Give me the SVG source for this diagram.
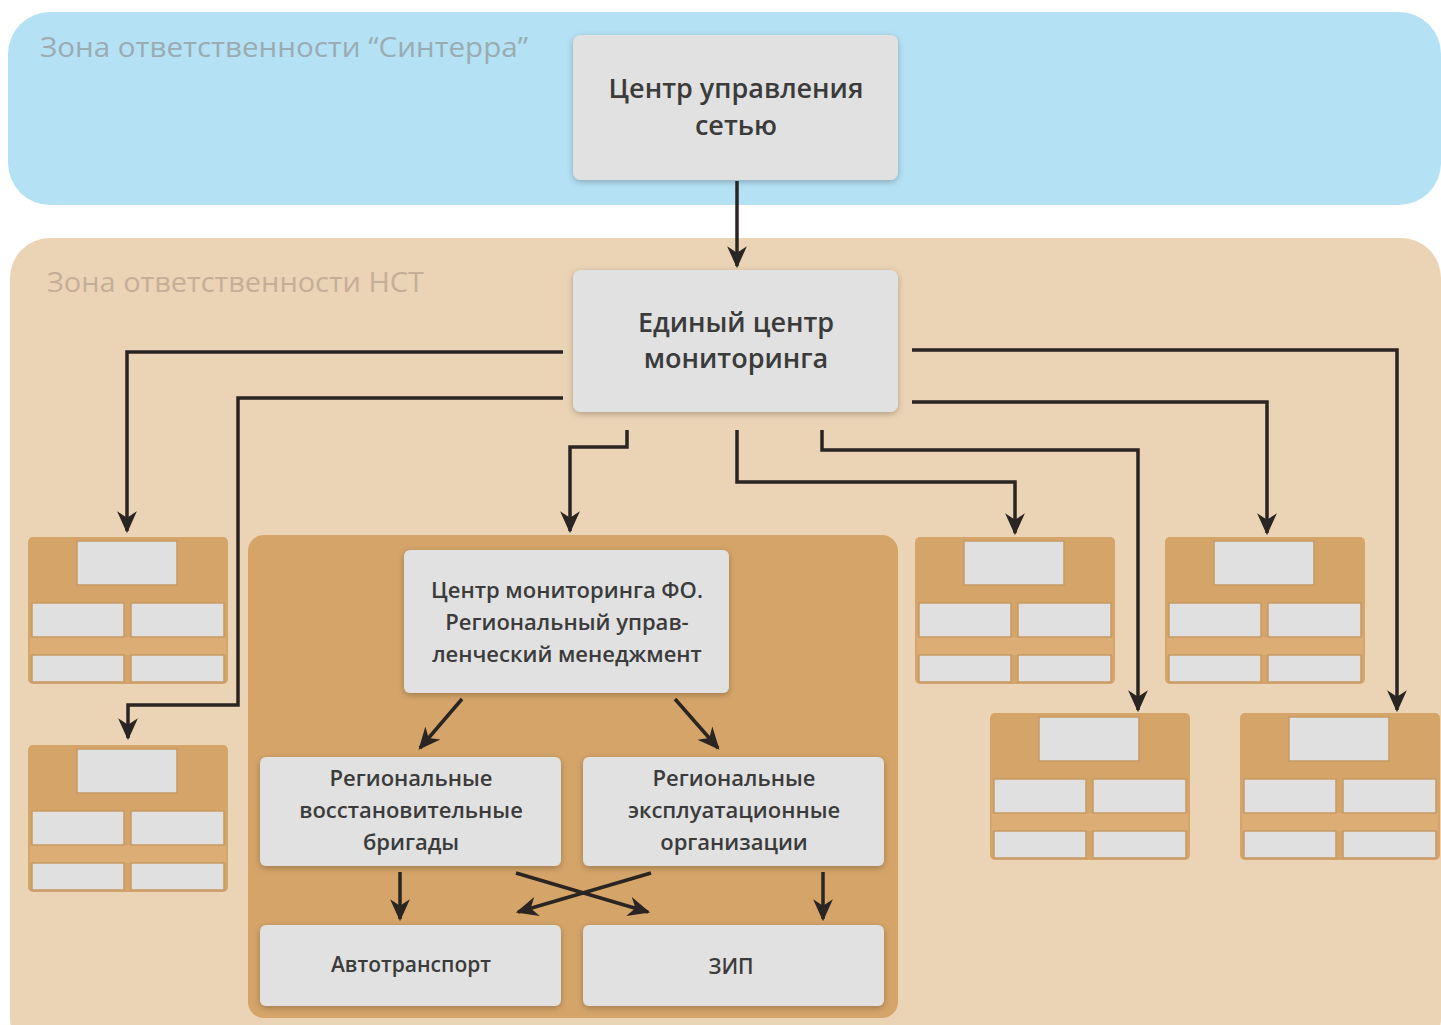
<svg xmlns="http://www.w3.org/2000/svg" width="1441" height="1025" viewBox="0 0 1441 1025">
<style>
.zone-label{font-family:"Open Sans","DejaVu Sans",sans-serif;font-size:28px;}
.box{fill:#e1e1e1;}
.txt{font-family:"Open Sans","DejaVu Sans",sans-serif;fill:#3b3b3b;text-anchor:middle;font-weight:600;}
.conn{fill:none;stroke:#2a2522;stroke-width:3.5;marker-end:url(#arr);}
.org{fill:#d4a469;}
.cell{fill:#e0e0e0;stroke:#c69a65;stroke-width:1.5;}
.band{fill:#dcae75;}
</style>
<defs>
<marker id="arr" viewBox="0 0 20 20" markerWidth="22" markerHeight="22" refX="18" refY="10" orient="auto" markerUnits="userSpaceOnUse">
<path d="M0,1 L20,10 L0,19 L6,10 z" fill="#2a2522"/>
</marker>
<filter id="sh" x="-10%" y="-10%" width="120%" height="130%">
<feDropShadow dx="0" dy="2" stdDeviation="3" flood-color="#000" flood-opacity="0.25"/>
</filter>
<g id="mini">
<rect class="org" x="0" y="0" width="200" height="147" rx="5"/>
<rect class="cell" x="49" y="4" width="100" height="44"/>
<rect class="band" x="2" y="100" width="196" height="18"/>
<rect class="cell" x="4" y="66" width="92" height="34"/>
<rect class="cell" x="103" y="66" width="93" height="34"/>
<rect class="cell" x="4" y="118" width="92" height="27"/>
<rect class="cell" x="103" y="118" width="93" height="27"/>
</g>
</defs>
<rect width="1441" height="1025" fill="#ffffff"/>
<g id="zone-sinterra">
<rect x="8" y="12" width="1433" height="193" rx="42" fill="#b4e1f4"/>
<text class="zone-label" x="40" y="57" fill="#9aabb2" textLength="488" lengthAdjust="spacingAndGlyphs">Зона ответственности “Синтерра”</text>
</g>
<g id="zone-nst">
<rect x="10" y="238" width="1431" height="820" rx="40" fill="#ebd3b5"/>
<text class="zone-label" x="47" y="292" fill="#c4ae98" textLength="377" lengthAdjust="spacingAndGlyphs">Зона ответственности НСТ</text>
</g>
<g id="node-cus">
<rect class="box" x="573" y="35" width="325" height="145" rx="8" filter="url(#sh)"/>
<text class="txt" x="736" y="98" font-size="27">Центр управления</text>
<text class="txt" x="736" y="135" font-size="27">сетью</text>
</g>
<g id="node-ecm">
<rect class="box" x="573" y="270" width="325" height="142" rx="8" filter="url(#sh)"/>
<text class="txt" x="736" y="332" font-size="27">Единый центр</text>
<text class="txt" x="736" y="368" font-size="27">мониторинга</text>
</g>
<g id="mini-1"><use href="#mini" x="28" y="537"/></g>
<g id="mini-2"><use href="#mini" x="28" y="745"/></g>
<g id="mini-3"><use href="#mini" x="915" y="537"/></g>
<g id="mini-4"><use href="#mini" x="1165" y="537"/></g>
<g id="mini-5"><use href="#mini" x="990" y="713"/></g>
<g id="mini-6"><use href="#mini" x="1240" y="713"/></g>
<g id="region-group">
<rect x="248" y="535" width="650" height="483" rx="16" fill="#d4a469"/>
</g>
<g id="node-cmfo">
<rect class="box" x="404" y="550" width="325" height="143" rx="6" filter="url(#sh)"/>
<text class="txt" x="567" y="598" font-size="22">Центр мониторинга ФО.</text>
<text class="txt" x="567" y="630" font-size="22">Региональный управ-</text>
<text class="txt" x="567" y="662" font-size="22">ленческий менеджмент</text>
</g>
<g id="node-rvb">
<rect class="box" x="260" y="757" width="301" height="109" rx="6" filter="url(#sh)"/>
<text class="txt" x="411" y="786" font-size="22">Региональные</text>
<text class="txt" x="411" y="818" font-size="22">восстановительные</text>
<text class="txt" x="411" y="850" font-size="22">бригады</text>
</g>
<g id="node-reo">
<rect class="box" x="583" y="757" width="301" height="109" rx="6" filter="url(#sh)"/>
<text class="txt" x="734" y="786" font-size="22">Региональные</text>
<text class="txt" x="734" y="818" font-size="22">эксплуатационные</text>
<text class="txt" x="734" y="850" font-size="22">организации</text>
</g>
<g id="node-auto">
<rect class="box" x="260" y="925" width="301" height="81" rx="6" filter="url(#sh)"/>
<text class="txt" x="411" y="972" font-size="21">Автотранспорт</text>
</g>
<g id="node-zip">
<rect class="box" x="583" y="925" width="301" height="81" rx="6" filter="url(#sh)"/>
<text class="txt" x="731" y="974" font-size="21">ЗИП</text>
</g>
<g id="connectors">
<path class="conn" d="M737,181 V266"/>
<path class="conn" d="M563,352 H127 V531"/>
<path class="conn" d="M563,398 H238 V705 H128 V738"/>
<path class="conn" d="M627,430 V447 H570 V531"/>
<path class="conn" d="M737,430 V482 H1015 V533"/>
<path class="conn" d="M822,430 V450 H1138 V710"/>
<path class="conn" d="M912,350 H1397 V710"/>
<path class="conn" d="M912,402 H1267 V533"/>
<path class="conn" d="M462,699 L420,748"/>
<path class="conn" d="M675,699 L718,748"/>
<path class="conn" d="M400,872 V919"/>
<path class="conn" d="M823,872 V919"/>
<path class="conn" d="M516,873 L648,912"/>
<path class="conn" d="M651,873 L518,912"/>
</g>
</svg>
